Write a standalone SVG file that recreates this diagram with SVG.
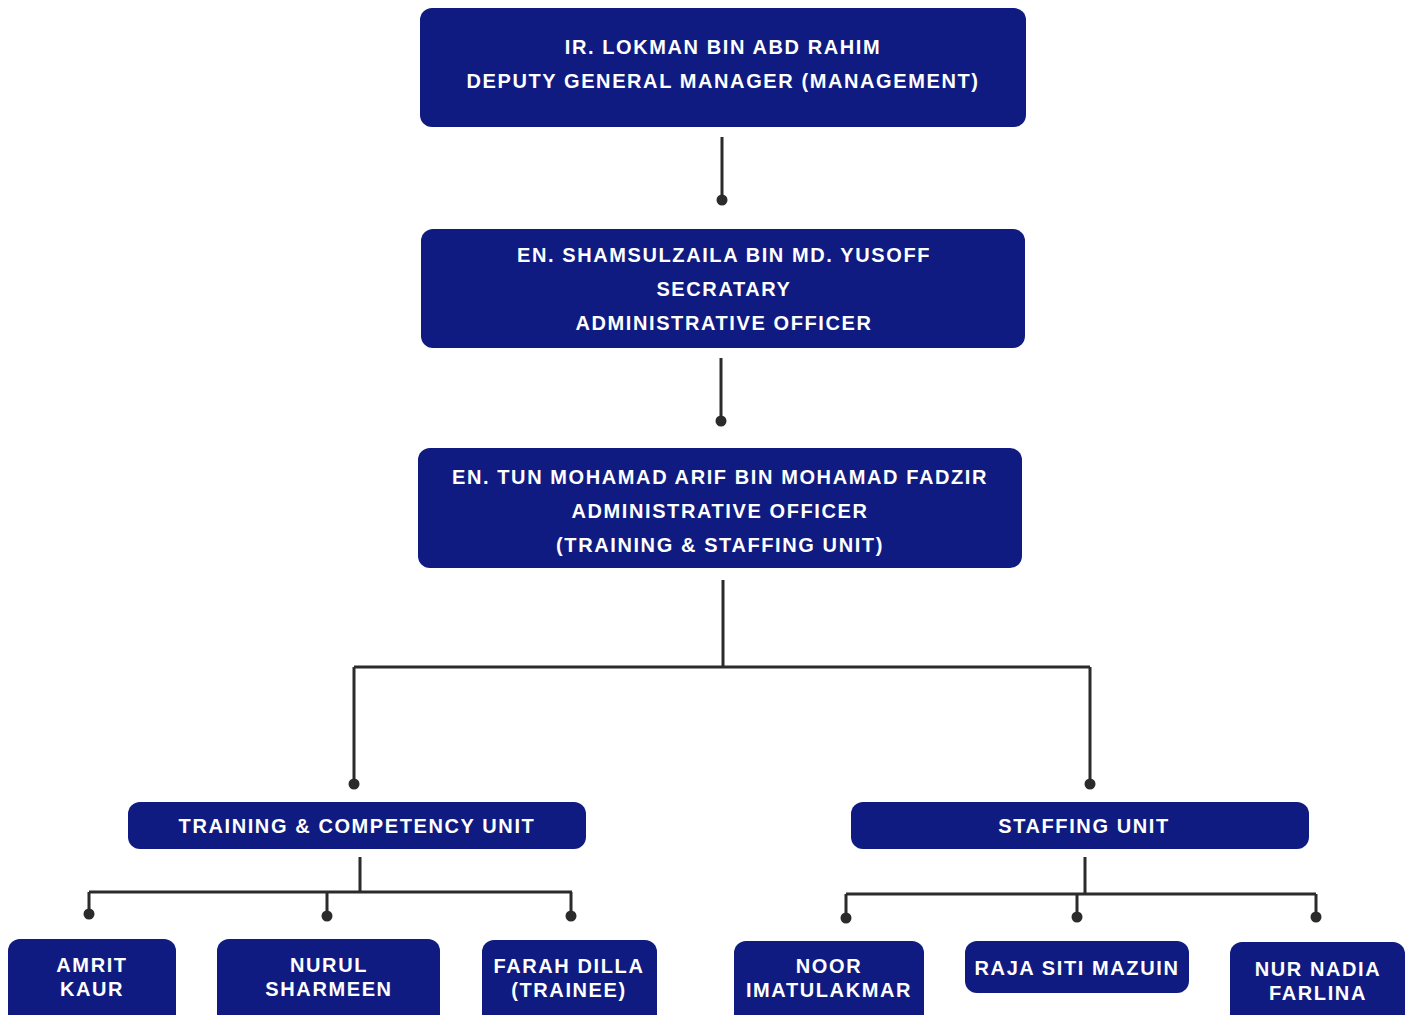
<svg xmlns="http://www.w3.org/2000/svg" width="1413" height="1015" viewBox="0 0 1413 1015">
<style>
.box{fill:#0f1b81}
.t{fill:#ffffff;font-family:"Liberation Sans",Arial,sans-serif;font-weight:bold;font-size:20px;text-anchor:middle;letter-spacing:1.6px}
.c{stroke:#2b2b2b;stroke-width:3;fill:none}
.d{fill:#2b2b2b}
</style>
<rect width="1413" height="1015" fill="#ffffff"/>
<g id="connectors">
<path class="c" d="M722 137V200"/>
<circle class="d" cx="722" cy="200" r="5.5"/>
<path class="c" d="M721 358V421"/>
<circle class="d" cx="721" cy="421" r="5.5"/>
<path class="c" d="M723 580V667M354 667H1090M354 667V784M1090 667V784"/>
<circle class="d" cx="354" cy="784" r="5.5"/>
<circle class="d" cx="1090" cy="784" r="5.5"/>
<path class="c" d="M360 857V892M89 892H572M89 892V913M327 892V915M571 892V915"/>
<circle class="d" cx="89" cy="914" r="5.5"/>
<circle class="d" cx="327" cy="916" r="5.5"/>
<circle class="d" cx="571" cy="916" r="5.5"/>
<path class="c" d="M1085 857V894M846 894H1316M846 894V918M1077 894V917M1316 894V917"/>
<circle class="d" cx="846" cy="918" r="5.5"/>
<circle class="d" cx="1077" cy="917" r="5.5"/>
<circle class="d" cx="1316" cy="917" r="5.5"/>
</g>
<g id="n1">
<rect class="box" x="420" y="8" width="606" height="119" rx="12"/>
<text class="t" x="723" y="54">IR. LOKMAN BIN ABD RAHIM</text>
<text class="t" x="723" y="88">DEPUTY GENERAL MANAGER (MANAGEMENT)</text>
</g>
<g id="n2">
<rect class="box" x="421" y="229" width="604" height="119" rx="12"/>
<text class="t" x="724" y="262">EN. SHAMSULZAILA BIN MD. YUSOFF</text>
<text class="t" x="724" y="296">SECRATARY</text>
<text class="t" x="724" y="330">ADMINISTRATIVE OFFICER</text>
</g>
<g id="n3">
<rect class="box" x="418" y="448" width="604" height="120" rx="12"/>
<text class="t" x="720" y="484">EN. TUN MOHAMAD ARIF BIN MOHAMAD FADZIR</text>
<text class="t" x="720" y="518">ADMINISTRATIVE OFFICER</text>
<text class="t" x="720" y="552">(TRAINING &amp; STAFFING UNIT)</text>
</g>
<g id="n4">
<rect class="box" x="128" y="802" width="458" height="47" rx="12"/>
<text class="t" x="357" y="833">TRAINING &amp; COMPETENCY UNIT</text>
</g>
<g id="n5">
<rect class="box" x="851" y="802" width="458" height="47" rx="12"/>
<text class="t" x="1084" y="833">STAFFING UNIT</text>
</g>
<g id="n6">
<rect class="box" x="8" y="939" width="168" height="90" rx="12"/>
<text class="t" x="92" y="972">AMRIT</text>
<text class="t" x="92" y="996">KAUR</text>
</g>
<g id="n7">
<rect class="box" x="217" y="939" width="223" height="90" rx="12"/>
<text class="t" x="329" y="972">NURUL</text>
<text class="t" x="329" y="996">SHARMEEN</text>
</g>
<g id="n8">
<rect class="box" x="482" y="940" width="175" height="90" rx="12"/>
<text class="t" x="569" y="973">FARAH DILLA</text>
<text class="t" x="569" y="997">(TRAINEE)</text>
</g>
<g id="n9">
<rect class="box" x="734" y="941" width="190" height="90" rx="12"/>
<text class="t" x="829" y="973">NOOR</text>
<text class="t" x="829" y="997">IMATULAKMAR</text>
</g>
<g id="n10">
<rect class="box" x="965" y="941" width="224" height="52" rx="12"/>
<text class="t" x="1077" y="975">RAJA SITI MAZUIN</text>
</g>
<g id="n11">
<rect class="box" x="1230" y="942" width="175" height="90" rx="12"/>
<text class="t" x="1318" y="976">NUR NADIA</text>
<text class="t" x="1318" y="1000">FARLINA</text>
</g>
</svg>
